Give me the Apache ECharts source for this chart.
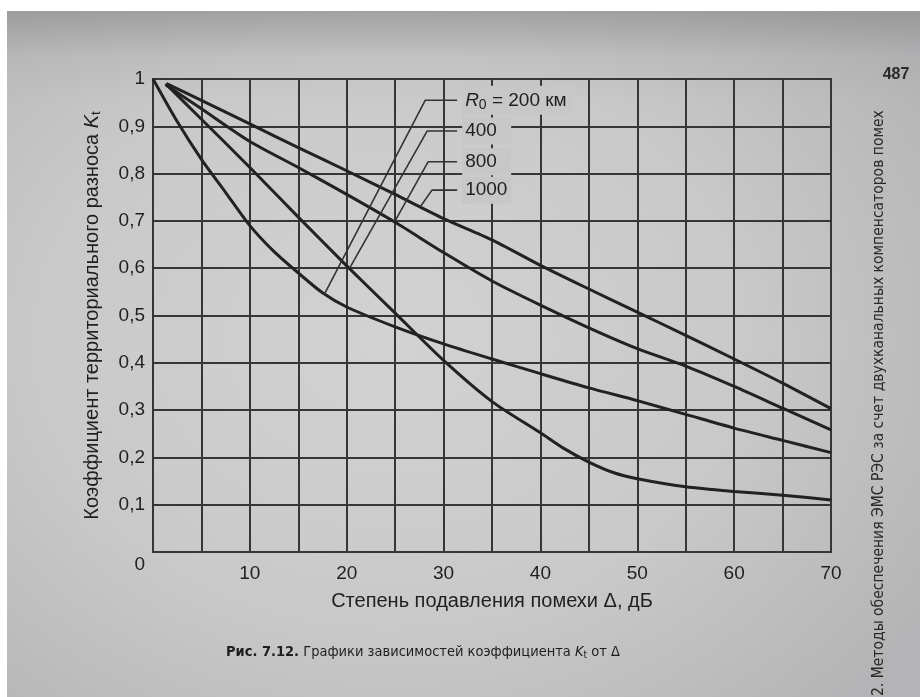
<!DOCTYPE html>
<html><head><meta charset="utf-8">
<script src="https://cdn.jsdelivr.net/npm/echarts@6.0.0/dist/echarts.min.js"></script>
<style>
html,body{margin:0;padding:0;background:#ffffff;width:920px;height:697px;overflow:hidden;}
#bg{position:absolute;left:7px;top:11px;width:913px;height:686px;
 background:
  linear-gradient(to bottom, rgba(120,120,120,0.45) 0px, rgba(150,150,150,0.15) 45px, rgba(0,0,0,0) 90px),
  radial-gradient(ellipse 70% 75% at 42% 48%, #d2d2d2 0%, #c9c9c9 55%, #b4b4b6 100%);}
#chart{position:absolute;left:0;top:0;width:920px;height:697px;}
</style></head><body><div id="bg"></div><div id="chart"></div>
<script>
// ---- data ----
const xLabelValues = [10, 20, 30, 40, 50, 60, 70];
const seriesNames = ['200 км', '400 км', '800 км', '1000 км'];

// R0 = 200 km
const dA = [0, 2.5, 5, 7.5, 10, 12.5, 15, 17.5, 20, 25, 30, 35, 40, 45, 50, 55, 60, 65, 70];
const kA = [1.0, 0.91, 0.83, 0.76, 0.69, 0.635, 0.59, 0.548, 0.518, 0.476, 0.44, 0.408, 0.377, 0.347, 0.32, 0.291, 0.262, 0.236, 0.21];
// R0 = 400 km
const dB = [1.3, 5, 10, 15, 20, 25, 30, 35, 40, 42.5, 45, 47.5, 50, 55, 60, 65, 70];
const kB = [0.99, 0.915, 0.813, 0.708, 0.605, 0.505, 0.405, 0.318, 0.252, 0.218, 0.19, 0.168, 0.155, 0.138, 0.128, 0.12, 0.11];
// R0 = 800 km
const dC = [1.3, 5, 10, 15, 20, 25, 30, 35, 40, 45, 50, 55, 60, 65, 70];
const kC = [0.988, 0.937, 0.868, 0.813, 0.756, 0.697, 0.633, 0.573, 0.522, 0.474, 0.43, 0.393, 0.35, 0.304, 0.258];
// R0 = 1000 km
const dD = [1.4, 5, 10, 15, 20, 25, 30, 35, 40, 45, 50, 55, 60, 65, 70];
const kD = [0.99, 0.955, 0.905, 0.855, 0.806, 0.756, 0.705, 0.66, 0.606, 0.556, 0.507, 0.458, 0.408, 0.357, 0.303];

// ---- annotation anchors (data space) ----
const labelTexts = ['{r|R}{s|0}{n| = 200 км}', '{n|400}', '{n|800}', '{n|1000}'];
const leaderOnCurve = [[17.7, 0.545], [20.3, 0.60], [25.0, 0.70], [27.6, 0.73]];
const leaderKnee = [[28.1, 0.955], [28.3, 0.89], [28.4, 0.825], [28.8, 0.765]];
const leaderEndX = 31.4;

// ---- styles ----
const INK = '#1f1f1f';
const GRIDC = '#363636';
const MASK = '#c7c7c7';
const FONT = '"Liberation Sans", Arial, sans-serif';
const NARROW = '"Liberation Sans Narrow", "DejaVu Sans Condensed", "Liberation Sans", sans-serif';

const chart = echarts.init(document.getElementById('chart'), null, {renderer: 'canvas'});

const curves = [[dA, kA], [dB, kB], [dC, kC], [dD, kD]];
const curveSeries = curves.map((c, i) => ({
  name: seriesNames[i],
  type: 'line',
  data: c[0].map((x, j) => [x, c[1][j]]),
  showSymbol: false,
  smooth: 0.25,
  lineStyle: {color: '#222222', width: 3},
  z: 3,
  silent: true
}));

const leaderSeries = leaderOnCurve.map((p, i) => ({
  type: 'line',
  data: [p, leaderKnee[i], [leaderEndX, leaderKnee[i][1]]],
  showSymbol: false,
  lineStyle: {color: '#333333', width: 1.6},
  z: 4,
  silent: true
}));

const richLegend = {
  r: {fontSize: 19, fontStyle: 'italic', fontFamily: FONT, fill: INK},
  s: {fontSize: 14, fontFamily: FONT, fill: INK, padding: [9, 0, 0, 0]},
  n: {fontSize: 19, fontFamily: FONT, fill: INK}
};

const staticGraphic = [
  {type: 'text', x: 226, y: 652, silent: true,
   style: {text: '{b|Рис. 7.12.} Графики зависимостей коэффициента {k|K}{t|t} от Δ',
     fontSize: 14.5, fontFamily: NARROW, fill: '#1e1e1e', verticalAlign: 'middle', align: 'left',
     rich: {b: {fontSize: 14.5, fontWeight: 'bold', fontFamily: NARROW, fill: '#1e1e1e'},
            k: {fontSize: 14.5, fontStyle: 'italic', fontFamily: NARROW, fill: '#1e1e1e'},
            t: {fontSize: 10, fontFamily: NARROW, fill: '#1e1e1e', padding: [6, 0, 0, 0]}}}},
  {type: 'text', x: 896, y: 75, silent: true,
   style: {text: '487', fontSize: 16, fontWeight: 'bold', fontFamily: FONT, fill: '#2a2a2a', align: 'center', verticalAlign: 'middle'}},
  {type: 'text', x: 879, y: 696, rotation: Math.PI / 2, silent: true,
   style: {text: '2. Методы обеспечения ЭМС РЭС за счет двухканальных компенсаторов помех',
     fontSize: 15.5, fontFamily: NARROW, fill: '#2a2a2a', align: 'left', verticalAlign: 'middle'}}
];

chart.setOption({
  animation: false,
  backgroundColor: 'transparent',
  grid: {left: 153, right: 89, top: 79, bottom: 145, show: true, borderColor: GRIDC, borderWidth: 2, backgroundColor: 'transparent'},
  xAxis: {
    type: 'value', min: 0, max: 70, interval: 5,
    name: 'Степень подавления помехи Δ, дБ',
    nameLocation: 'middle', nameGap: 39,
    nameTextStyle: {fontSize: 20, color: INK, fontFamily: FONT},
    axisLine: {show: true, lineStyle: {color: GRIDC, width: 2}},
    axisTick: {show: false},
    axisLabel: {
      fontSize: 19, color: INK, fontFamily: FONT, margin: 12,
      formatter: v => xLabelValues.indexOf(Math.round(v)) >= 0 ? String(Math.round(v)) : ''
    },
    splitLine: {show: true, lineStyle: {color: GRIDC, width: 2}}
  },
  yAxis: {
    type: 'value', min: 0, max: 1, interval: 0.1,
    name: 'Коэффициент территориального разноса {k|K}{t|t}',
    nameLocation: 'middle', nameGap: 50, nameRotate: 90,
    nameTextStyle: {fontSize: 20, color: INK, fontFamily: FONT,
      rich: {k: {fontSize: 20, fontStyle: 'italic', color: INK, fontFamily: FONT},
             t: {fontSize: 13, color: INK, fontFamily: FONT, padding: [8, 0, 0, 0]}}},
    axisLine: {show: true, lineStyle: {color: GRIDC, width: 2}},
    axisTick: {show: false},
    axisLabel: {
      fontSize: 19, color: INK, fontFamily: FONT, margin: 8,
      formatter: v => {
        if (Math.abs(v) < 1e-9) return '{z|0}';
        if (Math.abs(v - 1) < 1e-9) return '1';
        return v.toFixed(1).replace('.', ',');
      },
      rich: {z: {fontSize: 19, color: INK, fontFamily: FONT, padding: [26, 0, 0, 0]}}
    },
    splitLine: {show: true, lineStyle: {color: GRIDC, width: 2}}
  },
  series: curveSeries.concat(leaderSeries),
  graphic: staticGraphic
});

// legend labels placed at data-space anchors through the chart's own scales
const legendGraphic = leaderKnee.map((k, i) => {
  const p = chart.convertToPixel({gridIndex: 0}, [leaderEndX, k[1]]);
  return {
    type: 'text', x: p[0] + 5, y: p[1], z: 100, silent: true,
    style: {
      text: labelTexts[i], align: 'left', verticalAlign: 'middle',
      fontSize: 19, fontFamily: FONT, fill: INK,
      backgroundColor: MASK,
      padding: i === 0 ? [3, 6, 3, 3] : [4, 4, 4, 3],
      width: i === 0 ? undefined : 42,
      rich: richLegend
    }
  };
});
chart.setOption({graphic: staticGraphic.concat(legendGraphic)});
</script>
</body></html>
